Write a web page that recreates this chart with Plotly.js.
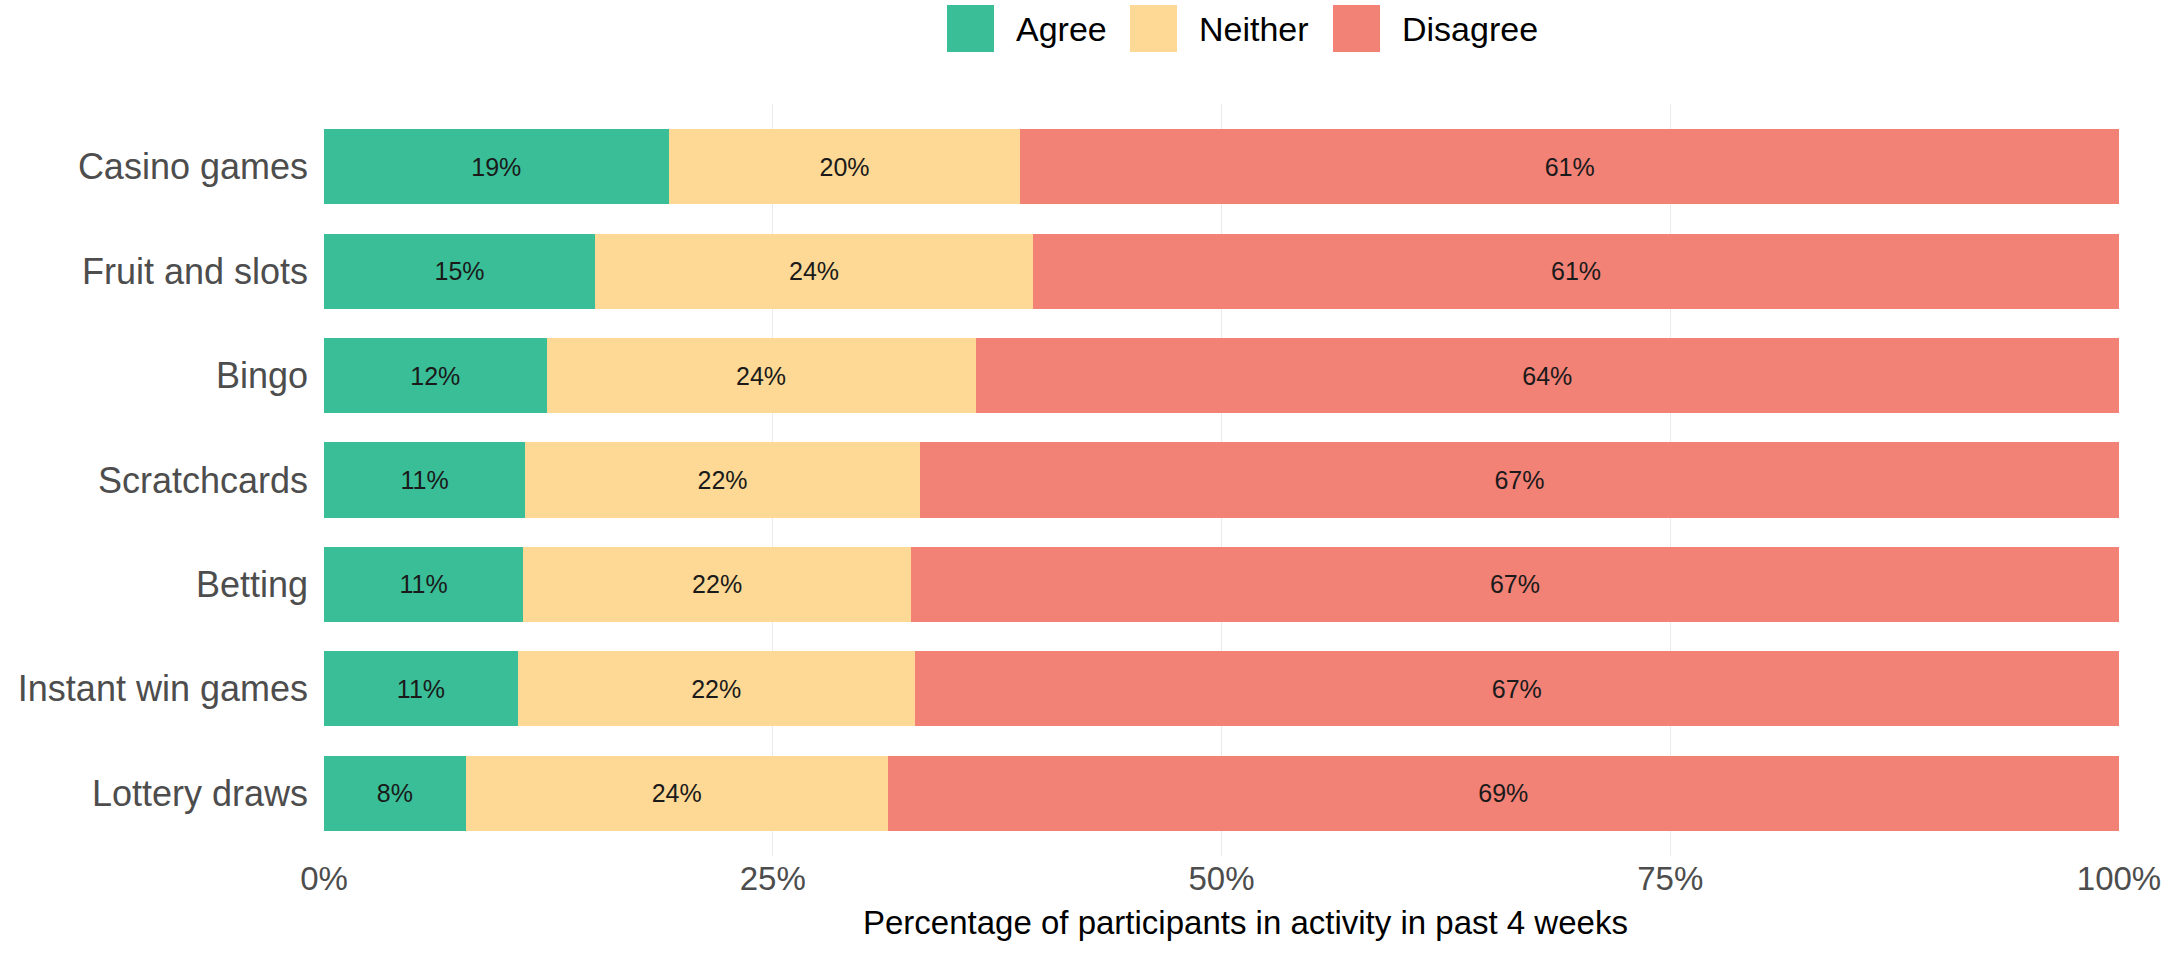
<!DOCTYPE html>
<html>
<head>
<meta charset="utf-8">
<script src="https://cdn.plot.ly/plotly-3.0.1.min.js"></script>
<style>
  html, body { margin: 0; padding: 0; background: #ffffff; }
  #chart { width: 2182px; height: 957px; }
</style>
</head>
<body>
<div id="chart"></div>
<script>
// Gambling activities, top to bottom
const categories = ['Casino games', 'Fruit and slots', 'Bingo', 'Scratchcards', 'Betting', 'Instant win games', 'Lottery draws'];

// Share of participants (%) for each response
const agree    = [19.2, 15.1, 12.4, 11.2, 11.1, 10.8, 7.9];
const neither  = [19.6, 24.4, 23.9, 22.0, 21.6, 22.1, 23.5];
const disagree = [61.2, 60.5, 63.7, 66.8, 67.3, 67.1, 68.6];

const seriesNames = ['Agree', 'Neither', 'Disagree'];
const seriesColors = ['#39BE98', '#FDD995', '#F28176'];
const xTickValues = [0, 25, 50, 75, 100];
const xAxisTitle = 'Percentage of participants in activity in past 4 weeks';

const W = 2182, H = 957;
const M = { l: 324, r: 63, t: 104, b: 101 };
const PW = W - M.l - M.r, PH = H - M.t - M.b;
const px = p => (p - M.l) / PW;          // pixel x -> paper x
const py = p => (H - M.b - p) / PH;      // pixel y -> paper y

const FONT = 'Liberation Sans, Arial, sans-serif';
const fmt = v => Math.round(v) + '%';

const traces = [agree, neither, disagree].map((vals, i) => ({
  type: 'bar',
  orientation: 'h',
  name: seriesNames[i],
  y: categories,
  x: vals,
  marker: { color: seriesColors[i], line: { width: 0 } },
  text: vals.map(fmt),
  textposition: 'inside',
  insidetextanchor: 'middle',
  textangle: 0,
  constraintext: 'none',
  textfont: { family: FONT, size: 25, color: '#1a1a1a' },
  hoverinfo: 'skip',
  showlegend: false
}));

// Legend drawn as large square keys with labels above the plot
const keyLeft = [947, 1130, 1333];
const keySize = 47, keyTop = 5;
const shapes = keyLeft.map((x0, i) => ({
  type: 'rect', xref: 'paper', yref: 'paper', layer: 'above',
  x0: px(x0), x1: px(x0 + keySize),
  y0: py(keyTop + keySize), y1: py(keyTop),
  fillcolor: seriesColors[i], line: { width: 0 }
}));
const annotations = keyLeft.map((x0, i) => ({
  xref: 'paper', yref: 'paper',
  x: px(x0 + keySize + 20), y: py(keyTop + keySize / 2),
  xanchor: 'left', yanchor: 'middle',
  text: seriesNames[i], showarrow: false,
  font: { family: FONT, size: 34, color: '#000000' }
}));

// x-axis title, placed below the tick labels
annotations.push({
  xref: 'paper', yref: 'paper',
  x: px(1245), y: py(922),
  xanchor: 'center', yanchor: 'middle',
  text: xAxisTitle, showarrow: false,
  font: { family: FONT, size: 33, color: '#000000' }
});

const layout = {
  width: W, height: H,
  margin: M,
  paper_bgcolor: '#ffffff',
  plot_bgcolor: '#ffffff',
  barmode: 'stack',
  bargap: 0.28,
  showlegend: false,
  font: { family: FONT },
  xaxis: {
    range: [0, 100],
    tickvals: xTickValues,
    ticktext: xTickValues.map(v => v + '%'),
    showgrid: true, gridcolor: '#EBEBEB', gridwidth: 1.3,
    zeroline: false, showline: false, ticks: '',
    tickfont: { family: FONT, size: 33, color: '#4D4D4D' }
  },
  yaxis: {
    type: 'category',
    categoryorder: 'array',
    categoryarray: categories,
    range: [6.6, -0.6],
    showgrid: false, zeroline: false, showline: false, ticks: '',
    ticklabelstandoff: 15,
    tickfont: { family: FONT, size: 36, color: '#4D4D4D' }
  },
  shapes: shapes,
  annotations: annotations
};

Plotly.newPlot('chart', traces, layout, { displayModeBar: false, staticPlot: true });
</script>
</body>
</html>
